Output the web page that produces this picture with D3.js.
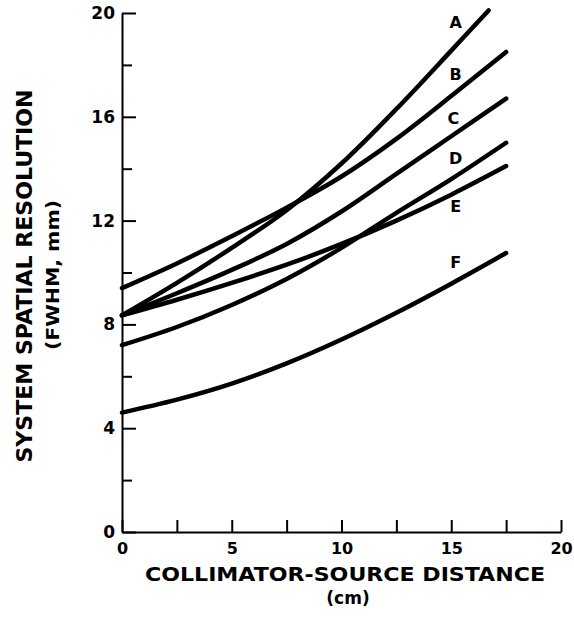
<!DOCTYPE html>
<html>
<head>
<meta charset="utf-8">
<script src="https://cdn.jsdelivr.net/npm/d3@7"></script>
<style>
  html, body { margin: 0; padding: 0; background: #fff; }
  svg { display: block; }
  text { font-family: "DejaVu Sans", "Liberation Sans", Arial, sans-serif; font-weight: bold; fill: #000; }
</style>
</head>
<body>
<svg id="chart" width="574" height="630"></svg>
<script>
// ---- Data ----
const distance  = [0, 2.5, 5, 7.5, 10, 12.5, 15, 17.5];      // collimator-source distance (cm)
const distanceA = [0, 2.5, 5, 7.5, 10, 12.5, 15, 16.7];      // curve A stops earlier (hits top)
const curveA = [8.35, 9.6, 10.95, 12.4, 14.2, 16.3, 18.55, 20.1];
const curveB = [9.4, 10.35, 11.4, 12.5, 13.7, 15.15, 16.8, 18.5];
const curveC = [8.35, 9.2, 10.1, 11.1, 12.35, 13.8, 15.25, 16.7];
const curveD = [7.2, 7.9, 8.75, 9.75, 10.95, 12.3, 13.6, 15.0];
const curveE = [8.35, 8.95, 9.6, 10.3, 11.1, 12.0, 13.0, 14.1];
const curveF = [4.6, 5.1, 5.72, 6.5, 7.42, 8.45, 9.57, 10.75];
const seriesLabels = ["A", "B", "C", "D", "E", "F"];
const xTickValues = [0, 2.5, 5, 7.5, 10, 12.5, 15, 17.5, 20];
const xTickLabels = [0, 5, 10, 15, 20];
const yMajorTicks = [0, 4, 8, 12, 16, 20];
const yMinorTicks = [2, 6, 10, 14, 18];
const xTitle = "COLLIMATOR-SOURCE DISTANCE";
const xUnit = "(cm)";
const yTitle = "SYSTEM SPATIAL RESOLUTION";
const yUnit = "(FWHM, mm)";

const series = [
  { name: "A", xs: distanceA, ys: curveA },
  { name: "B", xs: distance,  ys: curveB },
  { name: "C", xs: distance,  ys: curveC },
  { name: "D", xs: distance,  ys: curveD },
  { name: "E", xs: distance,  ys: curveE },
  { name: "F", xs: distance,  ys: curveF }
];
// label positions in data units
const labelPos = { A: [15.2, 19.6], B: [15.2, 17.6], C: [15.1, 15.9], D: [15.2, 14.35], E: [15.2, 12.5], F: [15.2, 10.35] };

// ---- Layout ----
const svg = d3.select("#chart");
const mLeft = 122, mRight = 561, mTop = 13, mBottom = 532;
const x = d3.scaleLinear().domain([0, 20]).range([mLeft, mRight]);
const y = d3.scaleLinear().domain([0, 20]).range([mBottom, mTop]);

// curves
const line = d3.line().x(d => x(d[0])).y(d => y(d[1])).curve(d3.curveCatmullRom.alpha(0.5));
svg.append("g").selectAll("path").data(series).join("path")
  .attr("d", s => line(s.xs.map((v, i) => [v, s.ys[i]])))
  .attr("fill", "none").attr("stroke", "#000").attr("stroke-width", 4.5)
  .attr("stroke-linecap", "round");

// y axis (major, labelled)
const yAxis = d3.axisLeft(y).tickValues(yMajorTicks).tickSize(-14).tickSizeOuter(0).tickPadding(7)
  .tickFormat(d3.format("d"));
const gy = svg.append("g").attr("transform", `translate(${mLeft},0)`).call(yAxis);
gy.select(".domain").attr("stroke-width", 2);
gy.selectAll(".tick line").attr("stroke-width", 2);
gy.selectAll(".tick text").style("font-size", "17px").style("font-family", "DejaVu Sans").style("font-weight", "bold");
// y minor ticks
const yMinor = d3.axisLeft(y).tickValues(yMinorTicks).tickSize(-10).tickSizeOuter(0).tickFormat("");
const gym = svg.append("g").attr("transform", `translate(${mLeft},0)`).call(yMinor);
gym.select(".domain").remove();
gym.selectAll(".tick line").attr("stroke-width", 2);

// x axis
const xAxis = d3.axisBottom(x).tickValues(xTickValues).tickSize(-12).tickSizeOuter(0).tickPadding(11)
  .tickFormat(d => xTickLabels.includes(d) ? d3.format("d")(d) : "");
const gx = svg.append("g").attr("transform", `translate(0,${mBottom})`).call(xAxis);
gx.select(".domain").attr("stroke-width", 2);
gx.selectAll(".tick line").attr("stroke-width", 2);
gx.selectAll(".tick text").style("font-size", "16px").style("font-family", "DejaVu Sans").style("font-weight", "bold");

// curve labels
svg.append("g").selectAll("text").data(seriesLabels).join("text")
  .attr("x", d => x(labelPos[d][0])).attr("y", d => y(labelPos[d][1]))
  .attr("text-anchor", "middle").attr("dominant-baseline", "middle")
  .style("font-size", "16px").text(d => d);

// axis titles
svg.append("text").attr("x", 345).attr("y", 581).attr("text-anchor", "middle")
  .attr("textLength", 400).attr("lengthAdjust", "spacingAndGlyphs")
  .style("font-size", "20px").text(xTitle);
svg.append("text").attr("x", 348).attr("y", 604).attr("text-anchor", "middle")
  .style("font-size", "17px").text(xUnit);
svg.append("text").attr("transform", "translate(32,276) rotate(-90)").attr("text-anchor", "middle")
  .attr("textLength", 373).attr("lengthAdjust", "spacingAndGlyphs")
  .style("font-size", "21px").text(yTitle);
svg.append("text").attr("transform", "translate(59,275) rotate(-90)").attr("text-anchor", "middle")
  .attr("textLength", 150).attr("lengthAdjust", "spacingAndGlyphs")
  .style("font-size", "18px").text(yUnit);
</script>
</body>
</html>
